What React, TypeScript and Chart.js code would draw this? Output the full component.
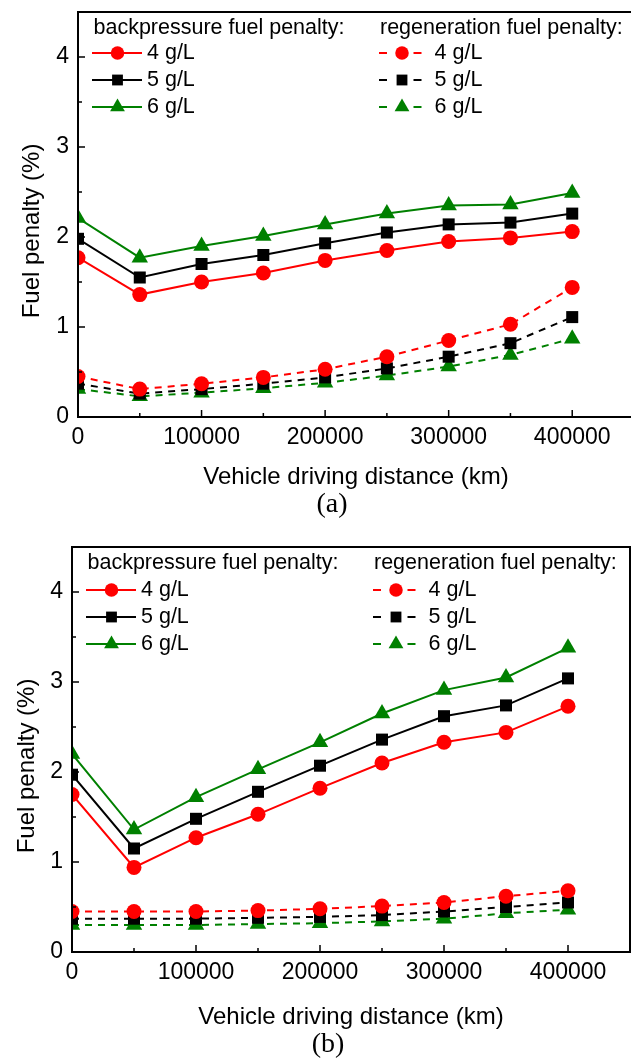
import React, { useEffect, useRef } from "react";
import { Chart, registerables } from "chart.js";
Chart.register(...registerables);

// ---------- data ----------
const distances = [0, 50000, 100000, 150000, 200000, 250000, 300000, 350000, 400000];
const xTickValues = [0, 100000, 200000, 300000, 400000];
const xMinorTickValues = [50000, 150000, 250000, 350000];
const yTickValues = [0, 1, 2, 3, 4];
const yMinorTickValues = [0.5, 1.5, 2.5, 3.5];
const loadingLabels = ["4 g/L", "5 g/L", "6 g/L"];
const backHeader = "backpressure fuel penalty:";
const regenHeader = "regeneration fuel penalty:";
const xTitle = "Vehicle driving distance (km)";
const yTitle = "Fuel penalty (%)";

// (a)
const aBack4 = [1.77, 1.36, 1.5, 1.6, 1.74, 1.85, 1.95, 1.99, 2.06];
const aBack5 = [1.98, 1.55, 1.7, 1.8, 1.93, 2.05, 2.14, 2.16, 2.26];
const aBack6 = [2.21, 1.77, 1.9, 2.01, 2.14, 2.26, 2.35, 2.36, 2.49];
const aRegen4 = [0.45, 0.31, 0.37, 0.44, 0.53, 0.67, 0.85, 1.03, 1.44];
const aRegen5 = [0.37, 0.26, 0.31, 0.37, 0.44, 0.54, 0.67, 0.82, 1.11];
const aRegen6 = [0.31, 0.23, 0.27, 0.32, 0.38, 0.46, 0.56, 0.69, 0.87];
// (b)
const bBack4 = [1.75, 0.94, 1.27, 1.53, 1.82, 2.1, 2.33, 2.44, 2.73];
const bBack5 = [1.97, 1.15, 1.48, 1.78, 2.07, 2.36, 2.62, 2.74, 3.04];
const bBack6 = [2.2, 1.36, 1.72, 2.03, 2.33, 2.65, 2.91, 3.05, 3.38];
const bRegen4 = [0.45, 0.45, 0.45, 0.46, 0.48, 0.51, 0.55, 0.62, 0.68];
const bRegen5 = [0.37, 0.37, 0.37, 0.38, 0.39, 0.41, 0.45, 0.5, 0.55];
const bRegen6 = [0.3, 0.3, 0.3, 0.31, 0.32, 0.34, 0.37, 0.43, 0.47];

// ---------- styles ----------
const colors = ["#ff0000", "#000000", "#008000"];
const markerStyles = ["circle", "rect", "triangle"];
const markerRadii = [7.5, 8.5, 9.5];
const SANS = "'Liberation Sans', Arial, sans-serif";
const SERIF = "'Liberation Serif', 'Times New Roman', serif";
const DASH = [7, 6];

function drawMarker(ctx: CanvasRenderingContext2D, style: string, x: number, y: number, r: number, color: string) {
  ctx.save();
  ctx.fillStyle = color;
  ctx.beginPath();
  if (style === "circle") {
    ctx.arc(x, y, r, 0, Math.PI * 2);
  } else if (style === "rect") {
    const s = r / Math.SQRT2;
    ctx.rect(x - s, y - s, 2 * s, 2 * s);
  } else {
    const dx = r * Math.cos(Math.PI / 6);
    ctx.moveTo(x, y - r);
    ctx.lineTo(x - dx, y + r / 2);
    ctx.lineTo(x + dx, y + r / 2);
    ctx.closePath();
  }
  ctx.fill();
  ctx.restore();
}

type Layout = {
  W: number;
  H: number;
  top: number;
  L: number;
  T: number;
  R: number;
  B: number;
  xTitleX: number;
  xTitleY: number;
  yTitleX: number;
  yTitleY: number;
  capX: number;
  capY: number;
  caption: string;
  legHeaderY: number;
  legRowY: number;
};

const zeroPad = (s: any) => {
  s.paddingTop = 0;
  s.paddingBottom = 0;
  s.paddingLeft = 0;
  s.paddingRight = 0;
};

function FuelChart({ back, regen, lay }: { back: number[][]; regen: number[][]; lay: Layout }) {
  const ref = useRef<HTMLCanvasElement>(null);
  useEffect(() => {
    const mk = (vals: number[], i: number, dashed: boolean) => ({
      label: (dashed ? "regeneration " : "backpressure ") + loadingLabels[i],
      data: distances.map((d, k) => ({ x: d, y: vals[k] })),
      borderColor: colors[i],
      backgroundColor: colors[i],
      borderWidth: 2,
      borderDash: dashed ? DASH : [],
      pointStyle: markerStyles[i],
      pointRadius: markerRadii[i],
      pointBorderWidth: 0,
      pointBackgroundColor: colors[i],
      tension: 0,
      clip: 0,
    });
    const datasets = [
      ...back.map((v, i) => mk(v, i, false)),
      ...regen.map((v, i) => mk(v, i, true)),
    ];

    const decor = {
      id: "decor",
      afterDatasetsDraw(chart: any) {
        const ctx: CanvasRenderingContext2D = chart.ctx;
        const a = chart.chartArea;
        const xs = chart.scales.x;
        const ys = chart.scales.y;
        ctx.save();
        // axis box
        ctx.strokeStyle = "#000";
        ctx.lineWidth = 2;
        ctx.setLineDash([]);
        ctx.beginPath();
        ctx.rect(a.left, a.top, a.right - a.left, a.bottom - a.top);
        ctx.stroke();
        // ticks (inward)
        ctx.lineWidth = 1.5;
        ctx.beginPath();
        yTickValues.forEach((v) => {
          const y = ys.getPixelForValue(v);
          ctx.moveTo(a.left, y);
          ctx.lineTo(a.left + 7, y);
        });
        yMinorTickValues.forEach((v) => {
          const y = ys.getPixelForValue(v);
          ctx.moveTo(a.left, y);
          ctx.lineTo(a.left + 4, y);
        });
        xTickValues.forEach((v) => {
          const x = xs.getPixelForValue(v);
          ctx.moveTo(x, a.bottom);
          ctx.lineTo(x, a.bottom - 7);
        });
        xMinorTickValues.forEach((v) => {
          const x = xs.getPixelForValue(v);
          ctx.moveTo(x, a.bottom);
          ctx.lineTo(x, a.bottom - 4);
        });
        ctx.stroke();

        // legend
        const L = a.left;
        ctx.fillStyle = "#000";
        ctx.font = "21.5px " + SANS;
        ctx.textAlign = "left";
        ctx.textBaseline = "middle";
        ctx.fillText(backHeader, L + 15.5, lay.legHeaderY);
        ctx.fillText(regenHeader, L + 302, lay.legHeaderY);
        for (let i = 0; i < 3; i++) {
          const y = lay.legRowY + i * 27;
          // solid
          ctx.strokeStyle = colors[i];
          ctx.lineWidth = 2;
          ctx.beginPath();
          ctx.moveTo(L + 14, y);
          ctx.lineTo(L + 64, y);
          ctx.stroke();
          drawMarker(ctx, markerStyles[i], L + 39.5, y, markerRadii[i] * 0.9, colors[i]);
          ctx.fillStyle = "#000";
          ctx.fillText(loadingLabels[i], L + 69, y);
          // dashed
          ctx.strokeStyle = colors[i];
          ctx.beginPath();
          ctx.moveTo(L + 301, y);
          ctx.lineTo(L + 309, y);
          ctx.moveTo(L + 335.5, y);
          ctx.lineTo(L + 343.5, y);
          ctx.stroke();
          drawMarker(ctx, markerStyles[i], L + 324, y, markerRadii[i] * 0.9, colors[i]);
          ctx.fillStyle = "#000";
          ctx.fillText(loadingLabels[i], L + 356.6, y);
        }

        // axis titles
        ctx.font = "24px " + SANS;
        ctx.textAlign = "center";
        ctx.fillText(xTitle, lay.xTitleX, lay.xTitleY);
        ctx.save();
        ctx.translate(lay.yTitleX, lay.yTitleY);
        ctx.rotate(-Math.PI / 2);
        ctx.fillText(yTitle, 0, 0);
        ctx.restore();
        // caption
        ctx.font = "28px " + SERIF;
        ctx.fillText(lay.caption, lay.capX, lay.capY);
        ctx.restore();
      },
    };

    const tickFont = { family: SANS, size: 23 };
    const chart = new Chart(ref.current as HTMLCanvasElement, {
      type: "line",
      data: { datasets } as any,
      options: {
        responsive: false,
        animation: false,
        devicePixelRatio: 1,
        layout: {
          autoPadding: false,
          padding: { left: 0, top: lay.T, right: lay.W - lay.R, bottom: lay.H - lay.B - 50 },
        },
        plugins: { legend: { display: false }, tooltip: { enabled: false }, title: { display: false } },
        scales: {
          x: {
            type: "linear",
            min: 0,
            max: 450000,
            grid: { display: false, drawTicks: false },
            border: { display: false },
            ticks: {
              font: tickFont,
              color: "#000",
              padding: 7,
              maxRotation: 0,
              autoSkip: false,
              callback: (v: any) => String(v),
            },
            afterBuildTicks: (s: any) => {
              s.ticks = xTickValues.map((v) => ({ value: v }));
            },
            afterFit: (s: any) => {
              s.height = 50;
              zeroPad(s);
            },
          },
          y: {
            type: "linear",
            min: 0,
            max: 4.5,
            grid: { display: false, drawTicks: false },
            border: { display: false },
            ticks: {
              font: tickFont,
              color: "#000",
              padding: 9,
              autoSkip: false,
              callback: (v: any) => String(v),
            },
            afterBuildTicks: (s: any) => {
              s.ticks = yTickValues.map((v) => ({ value: v }));
            },
            afterFit: (s: any) => {
              s.width = lay.L;
              zeroPad(s);
            },
          },
        },
      } as any,
      plugins: [decor],
    });
    return () => chart.destroy();
  }, []);
  return (
    <canvas
      ref={ref}
      width={lay.W}
      height={lay.H}
      style={{ position: "absolute", left: 0, top: lay.top, width: lay.W, height: lay.H, display: "block" }}
    />
  );
}

const layoutA: Layout = {
  W: 640,
  H: 530,
  top: 0,
  L: 78,
  T: 12,
  R: 634,
  B: 417,
  xTitleX: 356,
  xTitleY: 477,
  yTitleX: 32,
  yTitleY: 231,
  capX: 332,
  capY: 505,
  caption: "(a)",
  legHeaderY: 28,
  legRowY: 53,
};

const layoutB: Layout = {
  W: 640,
  H: 533,
  top: 530,
  L: 72,
  T: 17,
  R: 630,
  B: 422,
  xTitleX: 351,
  xTitleY: 487,
  yTitleX: 27,
  yTitleY: 236,
  capX: 328,
  capY: 515,
  caption: "(b)",
  legHeaderY: 33,
  legRowY: 60,
};

export default function App() {
  return (
    <div
      style={{
        position: "fixed",
        left: 0,
        top: 0,
        width: 631,
        height: 1063,
        overflow: "hidden",
        background: "#fff",
      }}
    >
      <FuelChart back={[aBack4, aBack5, aBack6]} regen={[aRegen4, aRegen5, aRegen6]} lay={layoutA} />
      <FuelChart back={[bBack4, bBack5, bBack6]} regen={[bRegen4, bRegen5, bRegen6]} lay={layoutB} />
    </div>
  );
}
